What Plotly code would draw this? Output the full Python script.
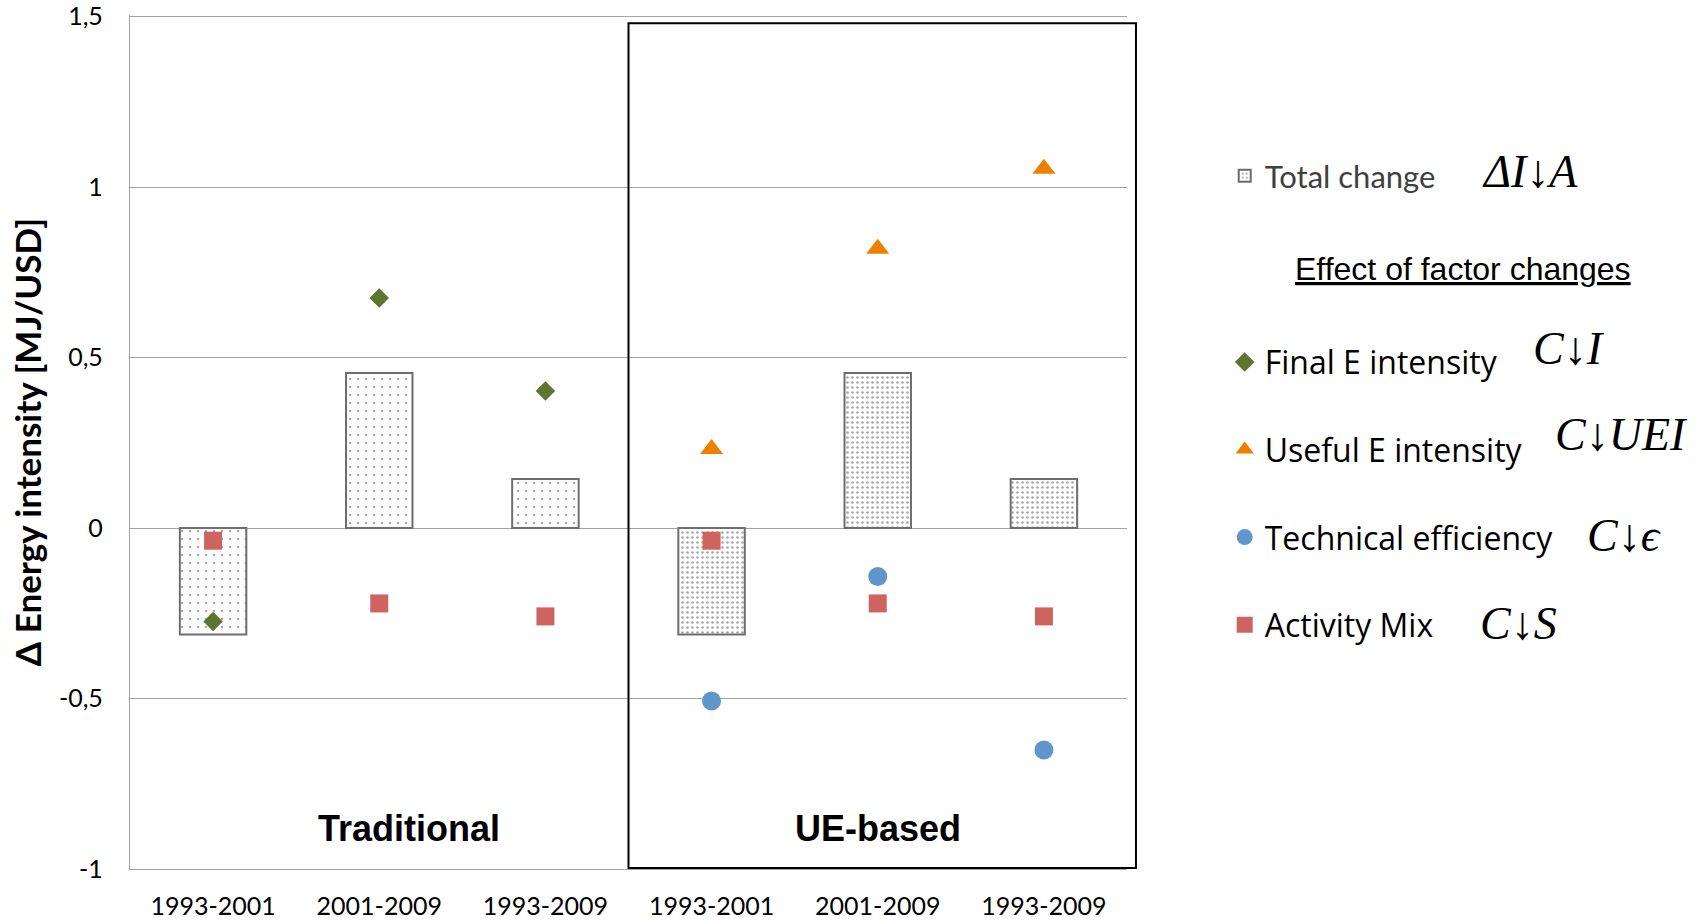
import plotly.graph_objects as go

# Periods on the x axis (traditional decomposition first, UE-based second)
period_labels = ["1993-2001", "2001-2009", "1993-2009", "1993-2001", "2001-2009", "1993-2009"]
trad_pos = [0, 1, 2]
ue_pos = [3, 4, 5]
all_pos = trad_pos + ue_pos

# Total change in energy intensity (bars)
total_trad = [-0.312, 0.455, 0.144]
total_ue = [-0.312, 0.455, 0.144]

# Effects of factor changes (markers)
final_e_intensity = [-0.274, 0.675, 0.402]      # traditional
useful_e_intensity = [0.232, 0.819, 1.054]      # UE-based
technical_efficiency = [-0.507, -0.142, -0.651] # UE-based
activity_mix = [-0.037, -0.221, -0.259, -0.037, -0.221, -0.259]

y_tick_vals = [-1, -0.5, 0, 0.5, 1, 1.5]
y_tick_text = ["-1", "-0,5", "0", "0,5", "1", "1,5"]

X_RANGE = [-0.5, 5.5]
# slightly above 1.5 so the top tick label and gridline are not dropped at the edge
Y_RANGE = [-1, 1.505]

GRID = "#a3a3a3"
BAR_EDGE = "#6e6e6e"

fig = go.Figure()

fig.add_trace(go.Bar(
    x=trad_pos, y=total_trad, width=0.4, name="Total change",
    marker=dict(color="white", line=dict(color=BAR_EDGE, width=2),
                pattern=dict(shape=".", size=8, solidity=0.08,
                             fgcolor="#505050", bgcolor="white")),
    showlegend=False, legend="legend",
))
fig.add_trace(go.Bar(
    x=ue_pos, y=total_ue, width=0.4, name="Total change",
    marker=dict(color="white", line=dict(color=BAR_EDGE, width=2),
                pattern=dict(shape=".", size=5, solidity=0.22,
                             fgcolor="#505050", bgcolor="white")),
    showlegend=True, legend="legend",
))

fig.add_trace(go.Scatter(
    x=trad_pos, y=final_e_intensity, mode="markers", name="Final E intensity",
    marker=dict(symbol="diamond", size=15, color="#5e7530"),
    legend="legend2", legendgroup="fei",
))
fig.add_trace(go.Scatter(
    x=ue_pos, y=useful_e_intensity, mode="markers", name="Useful E intensity",
    marker=dict(symbol="triangle-up", size=20, color="#ee7f00"),
    legend="legend2", legendgroup="uei",
))
fig.add_trace(go.Scatter(
    x=ue_pos, y=technical_efficiency, mode="markers", name="Technical efficiency",
    marker=dict(symbol="circle", size=19, color="#6096cc"),
    legend="legend2", legendgroup="te",
))
fig.add_trace(go.Scatter(
    x=all_pos, y=activity_mix, mode="markers", name="Activity Mix",
    marker=dict(symbol="square", size=18, color="#cf6360"),
    legend="legend2", legendgroup="am",
))


def xpaper(v):
    return (v - X_RANGE[0]) / (X_RANGE[1] - X_RANGE[0])


def ypaper(v):
    return (v - Y_RANGE[0]) / (Y_RANGE[1] - Y_RANGE[0])


# Frame around the UE-based group
fig.add_shape(type="rect", xref="paper", yref="paper",
              x0=xpaper(2.5), x1=1.009, y0=ypaper(-0.997), y1=ypaper(1.481),
              line=dict(color="black", width=2), layer="above")

annotations = [
    dict(x=1.18, y=-0.882, xref="x", yref="y", text="Traditional", showarrow=False,
         font=dict(family="Liberation Sans", size=36, color="black", weight="bold")),
    dict(x=4.0, y=-0.882, xref="x", yref="y", text="UE-based", showarrow=False,
         font=dict(family="Liberation Sans", size=36, color="black", weight="bold")),
    dict(x=1.337, y=0.7026, xref="paper", yref="paper", text="<u>Effect of factor changes</u>",
         showarrow=False, xanchor="center", yanchor="middle",
         font=dict(family="Liberation Sans", size=32, color="black")),
]

math_labels = [
    ("<i>ΔI↓A</i>", 1.354, 0.8173),
    ("<i>C↓I</i>", 1.405, 0.610),
    ("<i>C↓UEI</i>", 1.427, 0.5082),
    ("<i>C↓ϵ</i>", 1.459, 0.390),
    ("<i>C↓S</i>", 1.352, 0.2869),
]
for txt, ax, ay in math_labels:
    annotations.append(dict(x=ax, y=ay, xref="paper", yref="paper", text=txt,
                            showarrow=False, xanchor="left", yanchor="middle",
                            font=dict(family="Liberation Serif", size=46, color="black")))

fig.update_layout(
    width=1705, height=922,
    margin=dict(l=130, r=578, t=15, b=53, autoexpand=False),
    paper_bgcolor="white", plot_bgcolor="white",
    barmode="overlay",
    showlegend=True,
    legend=dict(x=1.098, xanchor="left", y=0.8115, yanchor="middle",
                font=dict(family="Lato", size=31, color="#404040"),
                bgcolor="rgba(0,0,0,0)", itemwidth=30),
    legend2=dict(x=1.098, xanchor="left", y=0.4396, yanchor="middle",
                 tracegroupgap=43,
                 font=dict(family="Open Sans", size=32, color="black"),
                 bgcolor="rgba(0,0,0,0)", itemwidth=30),
    annotations=annotations,
    xaxis=dict(range=X_RANGE, tickvals=all_pos, ticktext=period_labels,
               showgrid=False, zeroline=False, showline=True, linecolor=GRID, linewidth=1.3,
               ticks="", ticklabelstandoff=15, automargin=False,
               tickfont=dict(family="Lato", size=25, color="black")),
    yaxis=dict(range=Y_RANGE, tickvals=y_tick_vals, ticktext=y_tick_text,
               showgrid=True, gridcolor=GRID, gridwidth=1.3,
               zeroline=True, zerolinecolor=GRID, zerolinewidth=1.3,
               showline=True, linecolor=GRID, linewidth=1.3,
               ticks="", ticklabelstandoff=21, automargin=False,
               ticklabeloverflow="allow",
               tickfont=dict(family="Lato", size=25, color="black"),
               title=dict(text="Δ Energy intensity [MJ/USD]", standoff=6,
                          font=dict(family="Lato", size=35, color="black", weight="bold"))),
)

fig.write_html("out.html")
